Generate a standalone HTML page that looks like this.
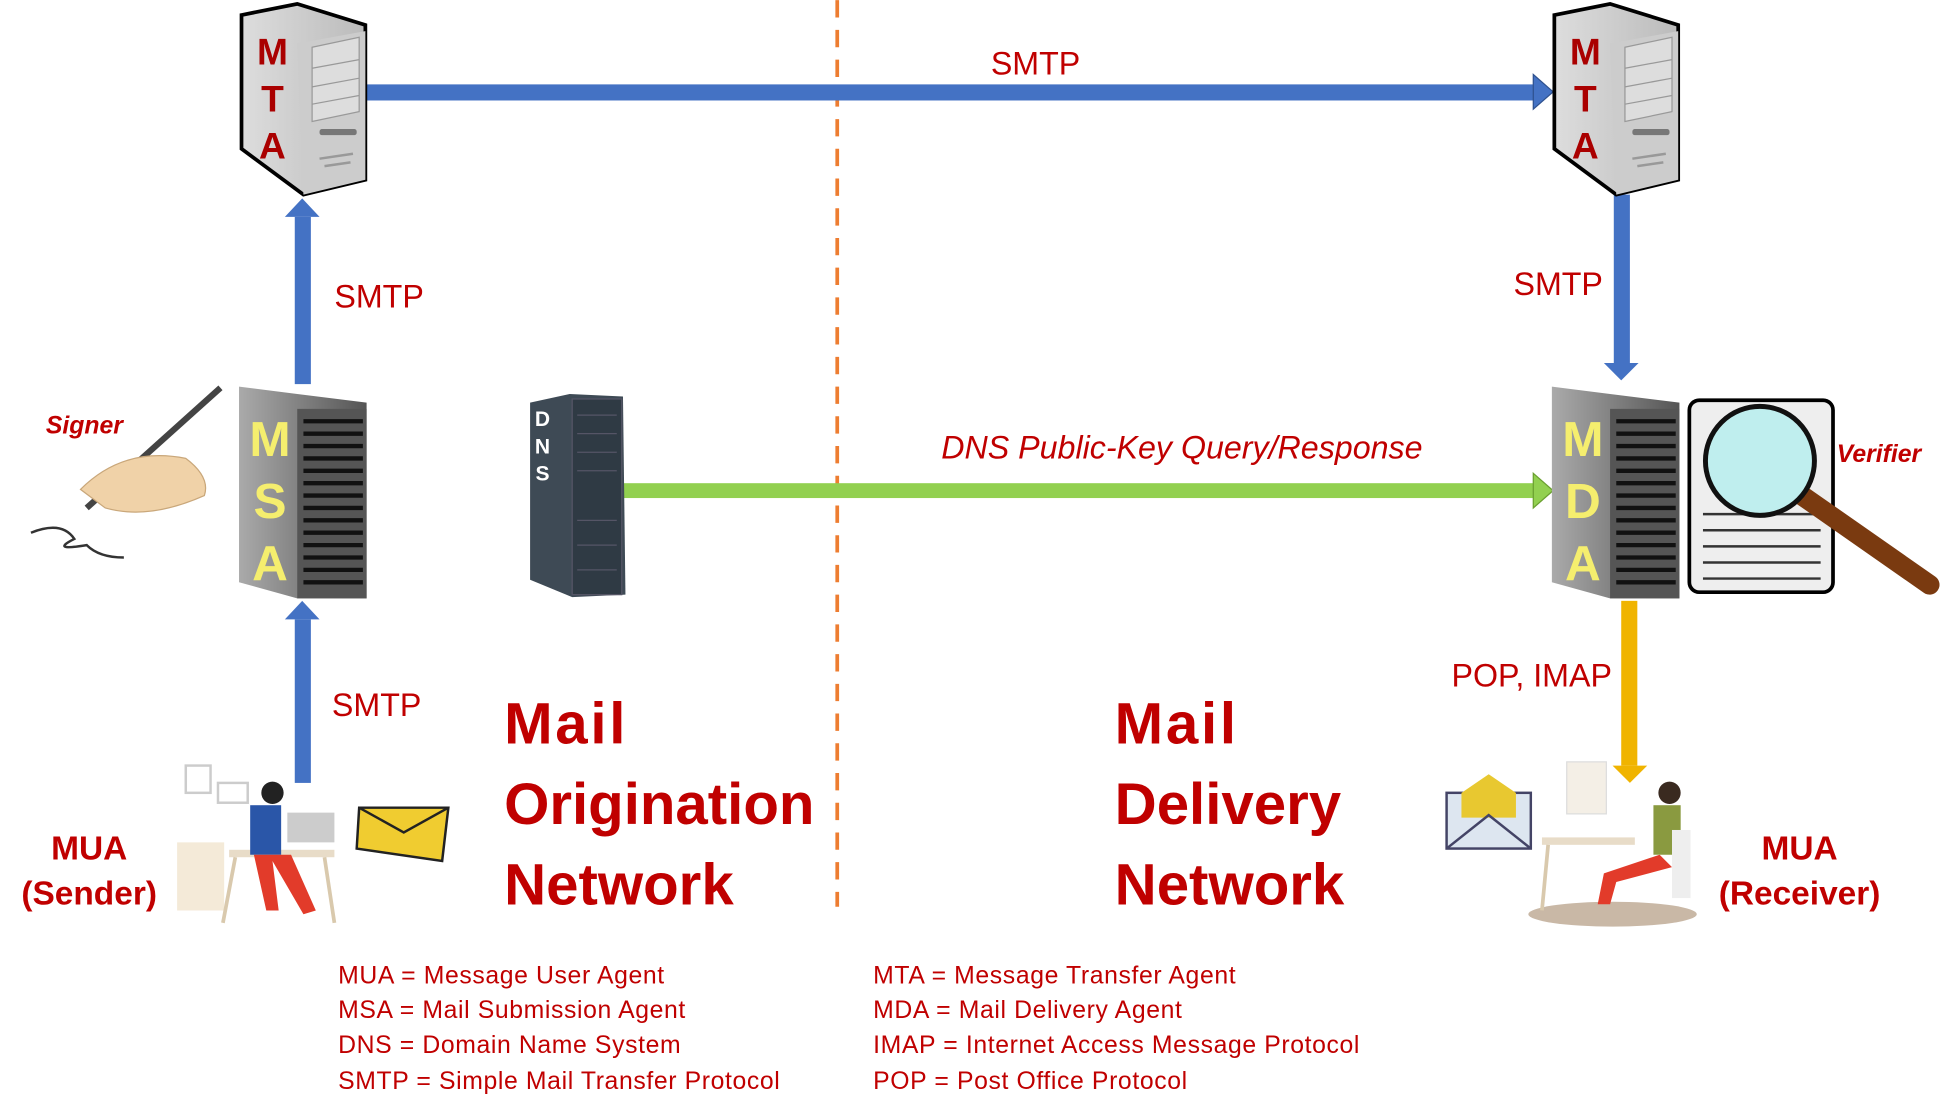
<!DOCTYPE html>
<html><head><meta charset="utf-8"><style>
html,body{margin:0;padding:0;background:#fff;width:1942px;height:1115px;overflow:hidden}
svg{display:block}
text{font-family:"Liberation Sans","DejaVu Sans",sans-serif}
</style></head><body>
<svg width="1942" height="1115" viewBox="0 0 1568 900" xmlns="http://www.w3.org/2000/svg">
<defs>
<linearGradient id="gg" x1="0" x2="1"><stop offset="0" stop-color="#aaa"/><stop offset="1" stop-color="#555"/></linearGradient>
<linearGradient id="lg" x1="0" x2="1"><stop offset="0" stop-color="#ddd"/><stop offset="1" stop-color="#bbb"/></linearGradient>
</defs>
<line x1="676" y1="0" x2="676" y2="732" stroke="#ed7d31" stroke-width="3" stroke-dasharray="14,10"/>
<rect x="296" y="68" width="944" height="13" fill="#4472c4"/>
<polygon points="1238,60 1254,74 1238,88" fill="#4472c4" stroke="#2f528f"/>
<text x="800" y="60" font-size="26" fill="#c00000">SMTP</text>
<rect x="238" y="175" width="13" height="135" fill="#4472c4"/>
<polygon points="230,175 244,160 258,175" fill="#4472c4"/>
<text x="270" y="248" font-size="26" fill="#c00000">SMTP</text>
<rect x="238" y="500" width="13" height="132" fill="#4472c4"/>
<polygon points="230,500 244,485 258,500" fill="#4472c4"/>
<text x="268" y="578" font-size="26" fill="#c00000">SMTP</text>
<rect x="1303" y="157" width="13" height="136" fill="#4472c4"/>
<polygon points="1295,293 1309,307 1323,293" fill="#4472c4"/>
<text x="1222" y="238" font-size="26" fill="#c00000">SMTP</text>
<rect x="1309" y="485" width="13" height="133" fill="#f0b400"/>
<polygon points="1302,618 1316,632 1330,618" fill="#f0b400"/>
<text x="1172" y="554" font-size="26" fill="#c00000">POP, IMAP</text>
<rect x="503" y="390" width="737" height="12" fill="#92d050"/>
<polygon points="1238,382 1254,396 1238,410" fill="#92d050" stroke="#6a9f30"/>
<text x="760" y="370" font-size="26" font-style="italic" fill="#c00000">DNS Public-Key Query/Response</text>
<g id="mta">
<polygon points="195,12 240,3 295,20 295,145 245,157 195,120" fill="url(#lg)" stroke="#000" stroke-width="3"/>
<polygon points="240,35 295,25 295,145 245,157" fill="#ccc"/>
<polygon points="252,38 290,30 290,90 252,98" fill="#ddd" stroke="#999"/>
<line x1="252" y1="55" x2="290" y2="48" stroke="#999"/><line x1="252" y1="70" x2="290" y2="63" stroke="#999"/><line x1="252" y1="84" x2="290" y2="77" stroke="#999"/>
<rect x="258" y="104" width="30" height="5" rx="2" fill="#777"/>
<line x1="258" y1="128" x2="285" y2="124" stroke="#999" stroke-width="2"/><line x1="262" y1="134" x2="283" y2="131" stroke="#999" stroke-width="2"/>
<text x="220" y="52" font-size="30" font-weight="bold" fill="#a00" text-anchor="middle">M</text>
<text x="220" y="90" font-size="30" font-weight="bold" fill="#a00" text-anchor="middle">T</text>
<text x="220" y="128" font-size="30" font-weight="bold" fill="#a00" text-anchor="middle">A</text>
</g>
<use href="#mta" x="1060"/>
<g id="msa">
<polygon points="193,312 240,318 296,325 296,483 240,483 193,470" fill="url(#gg)"/>
<rect x="240" y="330" width="56" height="153" fill="#555"/>
<g stroke="#111" stroke-width="3.5">
<line x1="245" y1="340" x2="293" y2="340"/><line x1="245" y1="350" x2="293" y2="350"/><line x1="245" y1="360" x2="293" y2="360"/><line x1="245" y1="370" x2="293" y2="370"/><line x1="245" y1="380" x2="293" y2="380"/><line x1="245" y1="390" x2="293" y2="390"/><line x1="245" y1="400" x2="293" y2="400"/><line x1="245" y1="410" x2="293" y2="410"/><line x1="245" y1="420" x2="293" y2="420"/><line x1="245" y1="430" x2="293" y2="430"/><line x1="245" y1="440" x2="293" y2="440"/><line x1="245" y1="450" x2="293" y2="450"/><line x1="245" y1="460" x2="293" y2="460"/><line x1="245" y1="470" x2="293" y2="470"/></g>
</g>
<use href="#msa" x="1060"/>
<g font-size="40" font-weight="bold" fill="#f5ee6e" text-anchor="middle">
<text x="218" y="368">M</text><text x="218" y="418">S</text><text x="218" y="468">A</text>
<text x="1278" y="368">M</text><text x="1278" y="418">D</text><text x="1278" y="468">A</text></g>
<polygon points="428,325 460,318 503,320 505,480 462,482 428,468" fill="#3e4a55"/>
<rect x="462" y="322" width="40" height="158" fill="#2f3a44" stroke="#556"/>
<g stroke="#556" stroke-width="1"><line x1="466" y1="335" x2="498" y2="335"/><line x1="466" y1="350" x2="498" y2="350"/><line x1="466" y1="365" x2="498" y2="365"/><line x1="466" y1="380" x2="498" y2="380"/><line x1="466" y1="420" x2="498" y2="420"/><line x1="466" y1="440" x2="498" y2="440"/><line x1="466" y1="460" x2="498" y2="460"/></g>
<g font-size="17" font-weight="bold" fill="#fff" text-anchor="middle"><text x="438" y="344">D</text><text x="438" y="366">N</text><text x="438" y="388">S</text></g>
<rect x="1364" y="323" width="116" height="155" rx="8" fill="#eee" stroke="#000" stroke-width="3"/>
<g stroke="#333" stroke-width="2"><line x1="1375" y1="415" x2="1470" y2="415"/><line x1="1375" y1="428" x2="1470" y2="428"/><line x1="1375" y1="441" x2="1470" y2="441"/><line x1="1375" y1="454" x2="1470" y2="454"/><line x1="1375" y1="467" x2="1470" y2="467"/></g>
<line x1="1455" y1="400" x2="1558" y2="472" stroke="#7a3a10" stroke-width="16" stroke-linecap="round"/>
<circle cx="1421" cy="372" r="44" fill="#bfeeee" stroke="#111" stroke-width="4"/>
<text x="1483" y="373" font-size="20" font-weight="bold" font-style="italic" fill="#c00000">Verifier</text>
<text x="37" y="350" font-size="20" font-weight="bold" font-style="italic" fill="#c00000">Signer</text>
<line x1="70" y1="410" x2="178" y2="313" stroke="#444" stroke-width="5"/>
<path d="M65,395 Q100,360 150,370 Q170,385 165,400 Q120,420 85,410 Z" fill="#f0d2a8" stroke="#c9a77a"/>
<path d="M25,430 Q50,420 60,435 Q40,445 70,440 Q80,450 100,450" fill="none" stroke="#333" stroke-width="2"/>
<polygon points="290,652 362,652 357,695 288,685" fill="#f0cc30" stroke="#222" stroke-width="2"/>
<polyline points="290,652 326,672 362,652" fill="none" stroke="#222" stroke-width="2"/>
<rect x="1168" y="640" width="68" height="45" fill="#dde6f0" stroke="#446" stroke-width="2"/>
<polygon points="1180,640 1202,625 1224,640 1224,660 1180,660" fill="#e8c830"/>
<polyline points="1168,685 1202,658 1236,685" fill="none" stroke="#446" stroke-width="2"/>
<rect x="143" y="680" width="38" height="55" fill="#f4ead8"/>
<rect x="150" y="618" width="20" height="22" fill="none" stroke="#ccc" stroke-width="2"/>
<rect x="176" y="632" width="24" height="16" fill="none" stroke="#ccc" stroke-width="2"/>
<rect x="185" y="686" width="85" height="6" fill="#e8dcc8"/>
<line x1="190" y1="692" x2="180" y2="745" stroke="#d9c9ad" stroke-width="3"/><line x1="262" y1="692" x2="270" y2="745" stroke="#d9c9ad" stroke-width="3"/>
<rect x="232" y="656" width="38" height="24" fill="#ccc"/>
<circle cx="220" cy="640" r="9" fill="#222"/>
<rect x="202" y="650" width="25" height="40" fill="#2a56a8"/>
<path d="M205,690 L215,735 L225,735 L220,695 L245,738 L255,735 L235,690 Z" fill="#e23b2a"/>
<ellipse cx="1302" cy="738" rx="68" ry="10" fill="#c9b8a6"/>
<rect x="1245" y="676" width="75" height="6" fill="#e8dcc8"/>
<line x1="1250" y1="682" x2="1245" y2="735" stroke="#d9c9ad" stroke-width="3"/>
<rect x="1265" y="615" width="32" height="42" fill="#f4efe6" stroke="#ddd"/>
<circle cx="1348" cy="640" r="9" fill="#3a2a20"/>
<rect x="1335" y="650" width="22" height="40" fill="#8a9a40"/>
<path d="M1340,690 L1295,705 L1290,730 L1300,730 L1305,712 L1350,700 Z" fill="#e23b2a"/>
<rect x="1350" y="670" width="15" height="55" fill="#eee"/>
<g font-size="47" font-weight="bold" fill="#c00000">
<text x="407" y="600" textLength="98">Mail</text><text x="407" y="665">Origination</text><text x="407" y="730">Network</text>
<text x="900" y="600" textLength="98">Mail</text><text x="900" y="665">Delivery</text><text x="900" y="730">Network</text></g>
<g font-size="27" font-weight="bold" fill="#c00000" text-anchor="middle">
<text x="72" y="694">MUA</text><text x="72" y="730">(Sender)</text>
<text x="1453" y="694">MUA</text><text x="1453" y="730">(Receiver)</text></g>
<g font-size="20" fill="#c00000" letter-spacing="0.5">
<text x="273" y="794">MUA = Message User Agent</text>
<text x="273" y="822">MSA = Mail Submission Agent</text>
<text x="273" y="850">DNS = Domain Name System</text>
<text x="273" y="879">SMTP = Simple Mail Transfer Protocol</text>
<text x="705" y="794">MTA = Message Transfer Agent</text>
<text x="705" y="822">MDA = Mail Delivery Agent</text>
<text x="705" y="850">IMAP = Internet Access Message Protocol</text>
<text x="705" y="879">POP = Post Office Protocol</text></g>
</svg>
</body></html>
